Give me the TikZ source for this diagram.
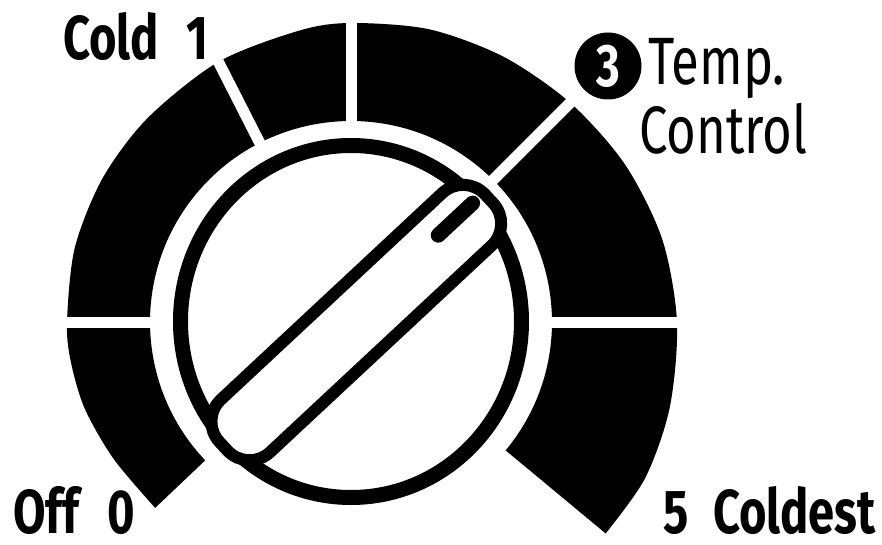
\documentclass[tikz,border=0pt]{standalone}
\usepackage{fontspec}
\newfontfamily\dialfont{Fira Sans}[FakeStretch=0.76]
\usetikzlibrary{positioning}

\tikzset{
  lbl/.style={font=\dialfont\bfseries\fontsize{62}{70}\selectfont, inner sep=0pt},
  note/.style={font=\dialfont\fontsize{67}{68}\selectfont, inner sep=0pt},
}

\begin{document}
\begin{tikzpicture}[x=1pt, y=1pt]
  \useasboundingbox (-351,-222) rectangle (531,322);
  % scale band, outer radius grows to the right
  \fill[black] plot[smooth] coordinates {(223.5:270) (210:274) (198:280) (188:283) (180:284) (165:286)
      (150:287) (135:288) (117:292) (100:296) (90:299) (75:303) (60:306) (45:310) (30:316)
      (15:322) (0:326) (-15:330) (-28:333) (-39.7:331)}
    -- (-39.7:201) arc[start angle=-39.7, end angle=223.5, radius=201] -- cycle;
  \foreach \a in {180,117,90,45,0}
    \draw[white, line width=11] (\a:185) -- (\a:350);
  % knob
  \draw[line width=15] (0,0.5) ellipse[x radius=170.5, y radius=176];
  \begin{scope}[rotate=43, shift={(0,-4)}]
    \draw[line width=12, fill=white, rounded corners=30] (-178,-36) rectangle (185,36);
    \draw[line width=15, line cap=round] (123,8) -- (170,8);
  \end{scope}
  % labels
  \node[lbl, anchor=base west] (cold) at (-288,262) {Cold\hspace{0.45em}1};
  \node[lbl, anchor=base west] (off) at (-338,-211) {Off\hspace{0.45em}0};
  \node[lbl, anchor=base east] (coldest) at (525,-211) {5\hspace{0.4em}Coldest};
  \node[circle, fill=black, minimum size=67pt, text=white, font=\dialfont\bfseries\fontsize{60}{60}\selectfont] (num) at (257,256) {3};
  \node[note, anchor=base west] (temp) at (297,237) {Temp.};
  \node[note, anchor=base west] (ctrl) at (288,169) {Control};
\end{tikzpicture}
\end{document}
